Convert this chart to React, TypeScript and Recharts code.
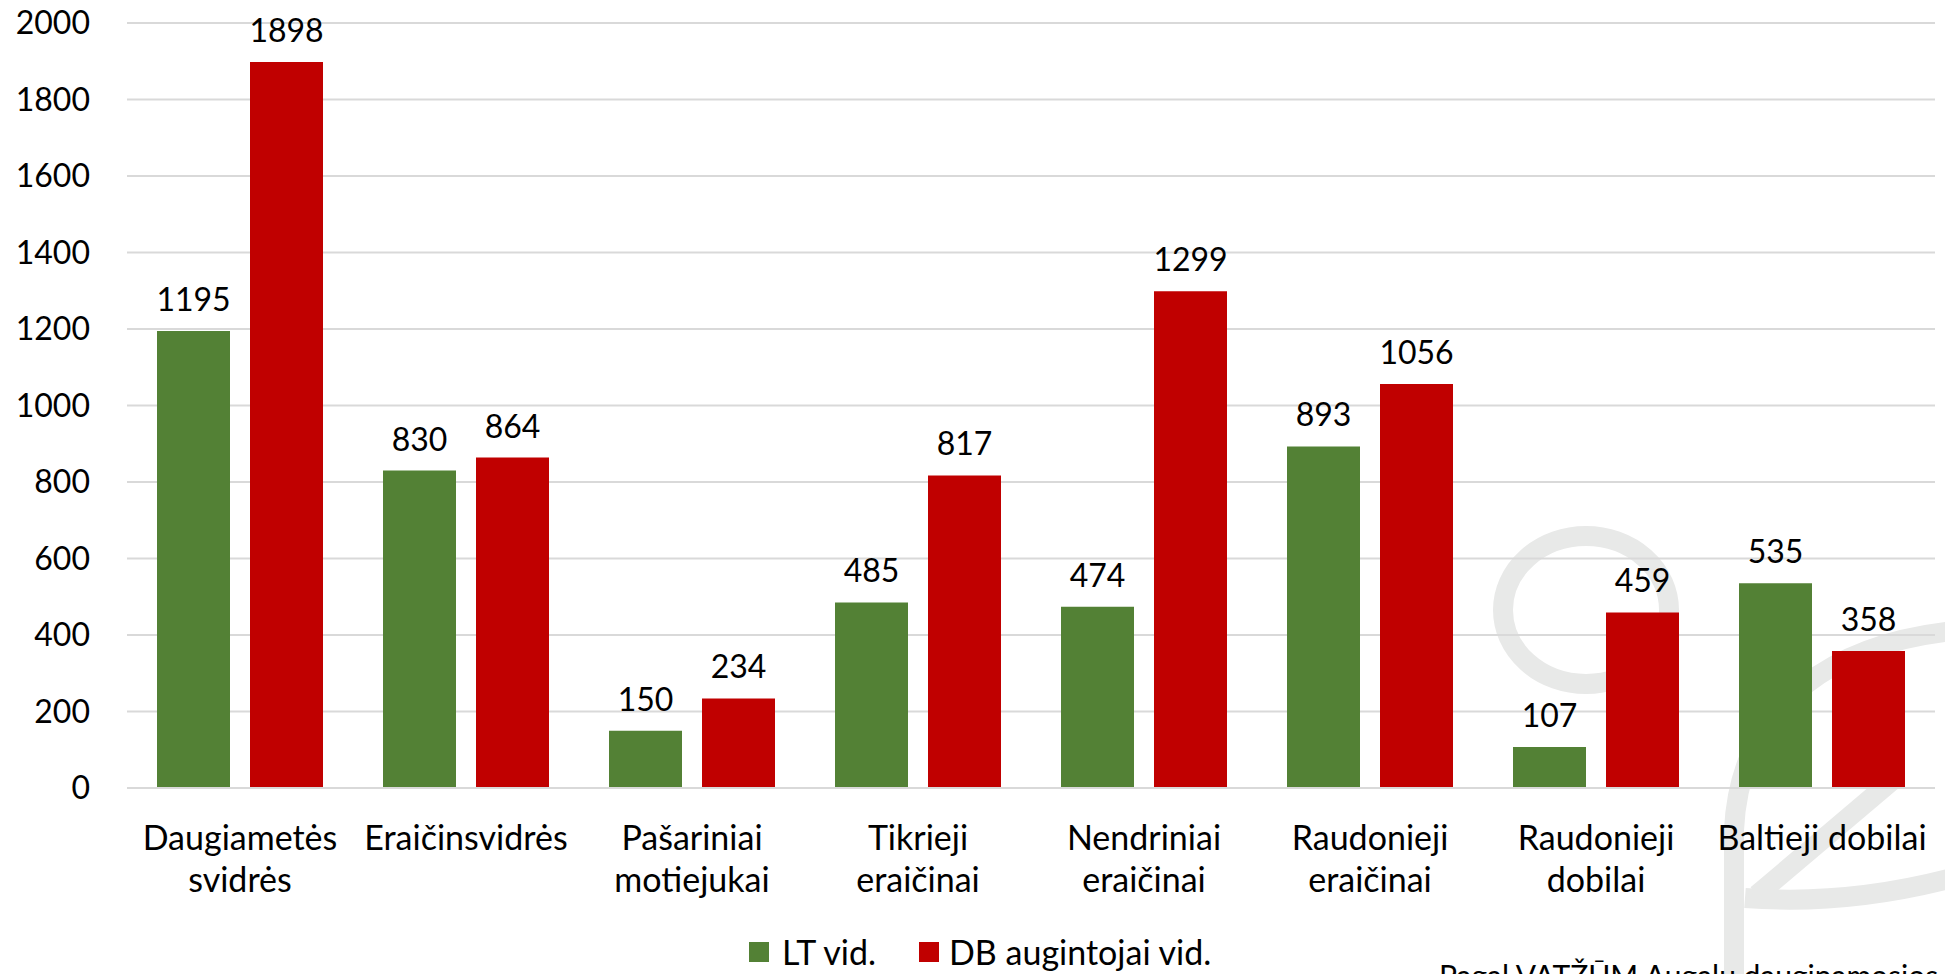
import React from "react";
import { BarChart, Bar, XAxis, YAxis, CartesianGrid, LabelList } from "recharts";

const categories = [
  "Daugiametės svidrės",
  "Eraičinsvidrės",
  "Pašariniai motiejukai",
  "Tikrieji eraičinai",
  "Nendriniai eraičinai",
  "Raudonieji eraičinai",
  "Raudonieji dobilai",
  "Baltieji dobilai",
];
const categoryLines: string[][] = [
  ["Daugiametės", "svidrės"],
  ["Eraičinsvidrės"],
  ["Pašariniai", "motiejukai"],
  ["Tikrieji", "eraičinai"],
  ["Nendriniai", "eraičinai"],
  ["Raudonieji", "eraičinai"],
  ["Raudonieji", "dobilai"],
  ["Baltieji dobilai"],
];
const ltValues = [1195, 830, 150, 485, 474, 893, 107, 535];
const dbValues = [1898, 864, 234, 817, 1299, 1056, 459, 358];
const yTicks = [0, 200, 400, 600, 800, 1000, 1200, 1400, 1600, 1800, 2000];
const seriesNames = ["LT vid.", "DB augintojai vid."];
const sourceText = "Pagal VATŽŪM Augalų dauginamosios";

const GREEN = "#538135";
const RED = "#C00000";
const FONT = "Lato, 'Open Sans', sans-serif";
const FS = 32;
const FS_TEXT = 34;

const data = categories.map((c, i) => ({ name: c, lt: ltValues[i], db: dbValues[i] }));

const CategoryTick = (props: any) => {
  const { x, y, payload } = props;
  const idx = categories.indexOf(payload.value);
  const lines = categoryLines[idx] || [payload.value];
  return (
    <text x={x} y={y} textAnchor="middle" fill="#000" fontFamily={FONT} fontSize={FS_TEXT}>
      {lines.map((l, i) => (
        <tspan key={i} x={x} dy={i === 0 ? 54 : 42}>
          {l}
        </tspan>
      ))}
    </text>
  );
};

export default function App() {
  return (
    <div
      style={{
        position: "absolute",
        left: 0,
        top: 0,
        width: 1945,
        height: 974,
        overflow: "hidden",
        background: "#fff",
        fontFamily: FONT,
      }}
    >
      <svg width={1945} height={974} style={{ position: "absolute", left: 0, top: 0 }}>
        <g fill="none" stroke="#e8e9e8" strokeWidth={20}>
          <ellipse cx={1586} cy={610} rx={83} ry={74} />
          <path d="M 1965 630 C 1840 640 1740 700 1734 830 L 1734 990" />
          <path d="M 1757 895 L 1895 778" />
          <path d="M 1745 898 Q 1850 906 1960 876" />
        </g>
      </svg>
      <div style={{ position: "absolute", left: 0, top: 0 }}>
        <BarChart
          width={1945}
          height={974}
          data={data}
          margin={{ top: 23, right: 10, bottom: 0, left: 0 }}
          barGap={20}
          barSize={73}
        >
          <CartesianGrid horizontal vertical={false} stroke="#d9d9d9" strokeWidth={2} />
          <XAxis
            dataKey="name"
            height={186}
            interval={0}
            tickLine={false}
            axisLine={{ stroke: "#d9d9d9", strokeWidth: 2 }}
            tick={<CategoryTick />}
          />
          <YAxis
            width={127}
            domain={[0, 2000]}
            ticks={yTicks}
            interval={0}
            axisLine={false}
            tickLine={false}
            tickSize={0}
            tickMargin={37}
            tick={{ fill: "#000", fontFamily: FONT, fontSize: FS }}
          />
          <Bar dataKey="lt" name={seriesNames[0]} fill={GREEN} isAnimationActive={false}>
            <LabelList dataKey="lt" position="top" offset={20} fill="#000" fontFamily={FONT} fontSize={FS} />
          </Bar>
          <Bar dataKey="db" name={seriesNames[1]} fill={RED} isAnimationActive={false}>
            <LabelList dataKey="db" position="top" offset={20} fill="#000" fontFamily={FONT} fontSize={FS} />
          </Bar>
        </BarChart>
      </div>
      <div
        style={{
          position: "absolute",
          left: 749,
          top: 937,
          height: 30,
          display: "flex",
          alignItems: "center",
          fontSize: FS_TEXT,
          lineHeight: "30px",
          color: "#000",
          whiteSpace: "nowrap",
        }}
      >
        <span style={{ width: 20, height: 20, background: GREEN, display: "inline-block", marginRight: 13 }} />
        <span style={{ marginRight: 43 }}>{seriesNames[0]}</span>
        <span style={{ width: 20, height: 20, background: RED, display: "inline-block", marginRight: 10 }} />
        <span>{seriesNames[1]}</span>
      </div>
      <div
        style={{
          position: "absolute",
          left: 1439,
          top: 955,
          fontSize: 30,
          lineHeight: "40px",
          color: "#000",
          whiteSpace: "nowrap",
        }}
      >
        {sourceText}
      </div>
    </div>
  );
}
